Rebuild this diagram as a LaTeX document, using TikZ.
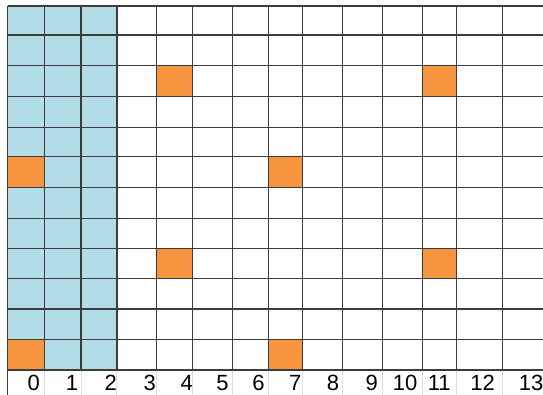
\documentclass[tikz,border=0pt]{standalone}
\usepackage{fontspec}
\setmainfont{Liberation Sans}
\definecolor{cellblue}{HTML}{B3DDE6}
\definecolor{cellorange}{HTML}{F7943F}
\definecolor{gridline}{HTML}{3C3C3C}
\definecolor{faintline}{HTML}{DDDDDD}
\tikzset{
    gridrule/.style={draw=gridline, line width=1.2pt},
    faintrule/.style={draw=faintline, line width=0.8pt},
    collabel/.style={anchor=base, inner sep=0pt, font=\fontsize{22}{24}\selectfont}
}
\begin{document}
\begin{tikzpicture}[x=1pt, y=-1pt]
    \useasboundingbox (0,0) rectangle (543,395);
    \fill[white] (0,0) rectangle (543,395);

    % Shaded columns
    \fill[cellblue] (7.5,6) rectangle (116.7,370);

    % Marked cells
    \fill[cellorange] (156.7,65.7) rectangle (192.7,96.7);
    \fill[cellorange] (422.7,65.7) rectangle (456.7,96.7);
    \fill[cellorange] (7.5,156.7) rectangle (44.3,187.7);
    \fill[cellorange] (268.3,156.7) rectangle (302.3,187.7);
    \fill[cellorange] (156.7,248.3) rectangle (192.7,278.3);
    \fill[cellorange] (422.7,248.3) rectangle (456.7,278.3);
    \fill[cellorange] (7.5,339.3) rectangle (44.3,370);
    \fill[cellorange] (268.3,339.3) rectangle (302.3,370);

    % Faint lines under the grid
    \draw[faintrule] (44.3,370) -- (44.3,395);
    \draw[faintrule] (81,370) -- (81,395);
    \draw[faintrule] (116.7,370) -- (116.7,395);
    \draw[faintrule] (156.7,370) -- (156.7,395);
    \draw[faintrule] (192.7,370) -- (192.7,395);
    \draw[faintrule] (232.3,370) -- (232.3,395);
    \draw[faintrule] (268.3,370) -- (268.3,395);
    \draw[faintrule] (302.3,370) -- (302.3,395);
    \draw[faintrule] (342.7,370) -- (342.7,395);
    \draw[faintrule] (382.7,370) -- (382.7,395);
    \draw[faintrule] (422.7,370) -- (422.7,395);
    \draw[faintrule] (456.7,370) -- (456.7,395);
    \draw[faintrule] (502.5,370) -- (502.5,395);

    % Rows
    \draw[gridrule] (7.5,6) -- (543,6);
    \draw[gridrule] (7.5,35) -- (543,35);
    \draw[gridrule] (7.5,65.7) -- (543,65.7);
    \draw[gridrule] (7.5,96.7) -- (543,96.7);
    \draw[gridrule] (7.5,127.3) -- (543,127.3);
    \draw[gridrule] (7.5,156.7) -- (543,156.7);
    \draw[gridrule] (7.5,187.7) -- (543,187.7);
    \draw[gridrule] (7.5,218.3) -- (543,218.3);
    \draw[gridrule] (7.5,248.3) -- (543,248.3);
    \draw[gridrule] (7.5,278.3) -- (543,278.3);
    \draw[gridrule] (7.5,309) -- (543,309);
    \draw[gridrule] (7.5,339.3) -- (543,339.3);
    \draw[gridrule] (7.5,370) -- (543,370);

    % Columns
    \draw[gridrule] (7.5,6) -- (7.5,395);
    \draw[gridrule] (44.3,6) -- (44.3,370);
    \draw[gridrule] (81,6) -- (81,370);
    \draw[gridrule, line width=1.8pt] (116.7,6) -- (116.7,370);
    \draw[gridrule] (156.7,6) -- (156.7,370);
    \draw[gridrule] (192.7,6) -- (192.7,370);
    \draw[gridrule] (232.3,6) -- (232.3,370);
    \draw[gridrule] (268.3,6) -- (268.3,370);
    \draw[gridrule] (302.3,6) -- (302.3,370);
    \draw[gridrule] (342.7,6) -- (342.7,370);
    \draw[gridrule] (382.7,6) -- (382.7,370);
    \draw[gridrule] (422.7,6) -- (422.7,370);
    \draw[gridrule] (456.7,6) -- (456.7,370);
    \draw[gridrule] (502.5,6) -- (502.5,370);

    % Labels
    \node[collabel] (L0) at (33.8,390) {0};
    \node[collabel] (L1) at (72,390) {1};
    \node[collabel] (L2) at (110.8,390) {2};
    \node[collabel] (L3) at (149.7,390) {3};
    \node[collabel] (L4) at (186.7,390) {4};
    \node[collabel] (L5) at (222.5,390) {5};
    \node[collabel] (L6) at (258.5,390) {6};
    \node[collabel] (L7) at (295.3,390) {7};
    \node[collabel] (L8) at (333,390) {8};
    \node[collabel] (L9) at (371.7,390) {9};
    \node[collabel] (L10) at (405,390) {10};
    \node[collabel] (L11) at (439.2,390) {11};
    \node[collabel] (L12) at (482.5,390) {12};
    \node[collabel] (L13) at (531,390) {13};
\end{tikzpicture}
\end{document}
